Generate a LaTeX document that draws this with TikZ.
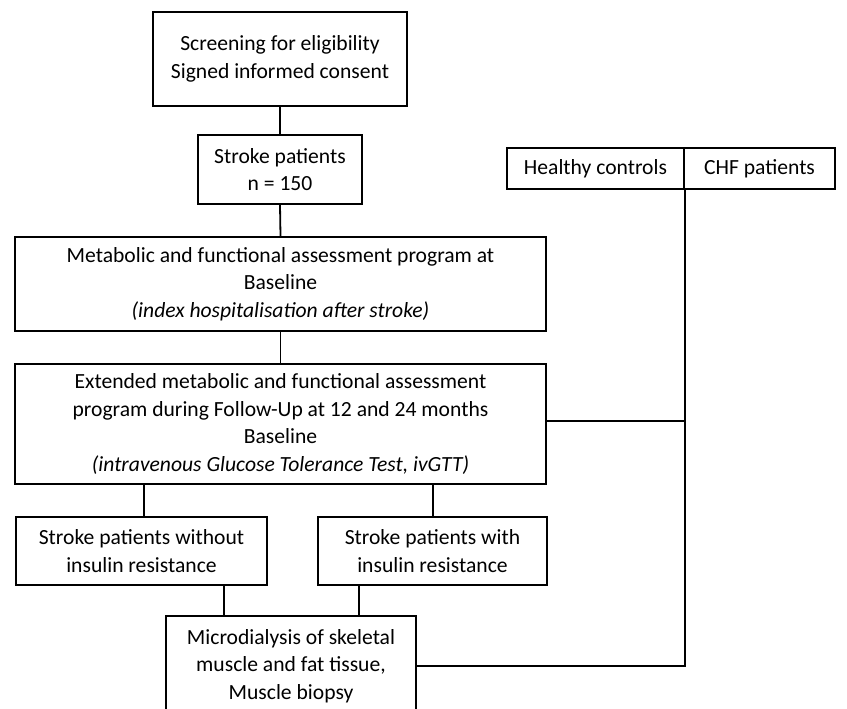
\documentclass[tikz,border=0pt]{standalone}
\usepackage{fontspec}
\setmainfont{Carlito}
\begin{document}
\begin{tikzpicture}[x=1pt,y=-1pt,
  box/.style={draw,line width=1.8pt,inner sep=0pt,align=center,
    font=\fontsize{21.6}{27.5}\selectfont},
  link/.style={line width=1.8pt}]
\useasboundingbox (0,0) rectangle (847,709);
\clip (0,0) rectangle (847,709);
% boxes: center at ((l+r)/2,(t+b)/2)
\node[box,minimum width=254pt,minimum height=94pt] (screen) at (280,59)
  {Screening for eligibility\\Signed informed consent};
\node[box,minimum width=164pt,minimum height=69pt] (stroke) at (280,169.5)
  {Stroke patients\\n = 150};
\node[box,minimum width=531pt,minimum height=94pt] (meta) at (280.5,284)
  {Metabolic and functional assessment program at\\Baseline\\\textit{(index hospitalisation after stroke)}};
\node[box,minimum width=531pt,minimum height=120pt] (ext) at (280.5,424)
  {Extended metabolic and functional assessment\\program during Follow-Up at 12 and 24 months\\Baseline\\\textit{(intravenous Glucose Tolerance Test, ivGTT)}};
\node[box,minimum width=251pt,minimum height=68pt] (without) at (141.5,551)
  {Stroke patients without\\insulin resistance};
\node[box,minimum width=229pt,minimum height=68pt] (with) at (432.5,551)
  {Stroke patients with\\insulin resistance};
\node[box,minimum width=250pt,minimum height=100pt] (micro) at (291,666)
  {Microdialysis of skeletal\\muscle and fat tissue,\\Muscle biopsy};
\node[box,minimum width=177pt,minimum height=41pt] (healthy) at (595.5,168.5)
  {Healthy controls};
\node[box,minimum width=151pt,minimum height=41pt] (chf) at (759.5,168.5)
  {CHF patients};
% connectors
\draw[link] (screen.south) -- (stroke.north);
\draw[link] (stroke.south) -- (meta.north);
\draw[link] (meta.south) -- (ext.north);
\draw[link] ([xshift=2.5pt]without.north) -- ([xshift=2.5pt]without.north |- ext.south);
\draw[link] ([xshift=0.5pt]with.north) -- ([xshift=0.5pt]with.north |- ext.south);
\draw[link] ([xshift=82.5pt]without.south) -- ([xshift=82.5pt]without.south |- micro.north);
\draw[link] ([xshift=-73.5pt]with.south) -- ([xshift=-73.5pt]with.south |- micro.north);
\draw[link] (micro.east) -- (micro.east -| healthy.south east) -- (healthy.south east);
\draw[link] ([yshift=3pt]ext.east) -- ([yshift=3pt]ext.east -| healthy.south east);
\end{tikzpicture}
\end{document}
